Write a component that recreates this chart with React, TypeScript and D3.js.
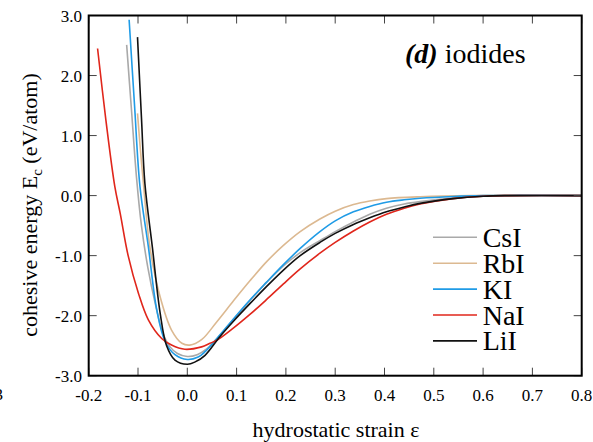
import React from "react";
import * as d3 from "d3";

const W = 593;
const H = 442;

const xTicks = [-0.2, -0.1, 0.0, 0.1, 0.2, 0.3, 0.4, 0.5, 0.6, 0.7, 0.8];
const yTicks = [3.0, 2.0, 1.0, 0.0, -1.0, -2.0, -3.0];

const csiEps = [-0.123, -0.113, -0.103, -0.093, -0.08, -0.065, -0.05, -0.035, -0.02, 0.0, 0.02, 0.04, 0.066, 0.095, 0.127, 0.16, 0.195, 0.229, 0.269, 0.3, 0.337, 0.37, 0.404, 0.44, 0.472, 0.539, 0.6, 0.65, 0.8];
const csiE = [2.51, 1.4, 0.3, -0.5, -1.2, -1.8, -2.28, -2.52, -2.63, -2.68, -2.65, -2.55, -2.33, -2.05, -1.75, -1.45, -1.17, -0.95, -0.75, -0.6, -0.44, -0.31, -0.21, -0.14, -0.1, -0.04, -0.01, 0, 0];

const rbiEps = [-0.101, -0.095, -0.089, -0.076, -0.055, -0.032, -0.011, 0.005, 0.029, 0.06, 0.093, 0.127, 0.161, 0.195, 0.229, 0.269, 0.3, 0.337, 0.37, 0.404, 0.472, 0.573, 0.8];
const rbiE = [1.37, 0.75, 0.2, -0.85, -1.69, -2.24, -2.46, -2.49, -2.4, -2.1, -1.76, -1.42, -1.1, -0.83, -0.6, -0.39, -0.26, -0.15, -0.09, -0.05, -0.02, 0, 0];

const kiEps = [-0.118, -0.107, -0.096, -0.079, -0.062, -0.045, -0.025, 0.0, 0.022, 0.036, 0.06, 0.093, 0.127, 0.16, 0.195, 0.229, 0.269, 0.3, 0.337, 0.37, 0.404, 0.44, 0.472, 0.54, 0.6, 0.8];
const kiE = [2.93, 1.5, 0.15, -0.85, -1.9, -2.43, -2.65, -2.73, -2.69, -2.6, -2.38, -2.06, -1.74, -1.45, -1.15, -0.88, -0.6, -0.42, -0.27, -0.18, -0.11, -0.07, -0.045, -0.015, 0, 0];

const naiEps = [-0.182, -0.165, -0.147, -0.136, -0.12, -0.099, -0.079, -0.052, -0.032, -0.005, 0.029, 0.046, 0.06, 0.09, 0.127, 0.161, 0.195, 0.229, 0.269, 0.3, 0.337, 0.37, 0.404, 0.44, 0.472, 0.539, 0.6, 0.65, 0.8];
const naiE = [2.45, 1.25, 0.15, -0.3, -1.0, -1.63, -2.07, -2.38, -2.49, -2.56, -2.52, -2.46, -2.41, -2.23, -1.98, -1.73, -1.47, -1.22, -0.96, -0.78, -0.59, -0.44, -0.31, -0.21, -0.14, -0.05, -0.01, 0, 0];

const liiEps = [-0.101, -0.093, -0.086, -0.071, -0.055, -0.042, -0.025, 0.0, 0.016, 0.036, 0.066, 0.095, 0.127, 0.16, 0.195, 0.229, 0.269, 0.3, 0.337, 0.37, 0.404, 0.44, 0.472, 0.539, 0.6, 0.65, 0.8];
const liiE = [2.64, 1.3, 0.2, -0.85, -1.96, -2.5, -2.74, -2.81, -2.77, -2.66, -2.35, -2.08, -1.8, -1.52, -1.24, -1.0, -0.78, -0.63, -0.48, -0.37, -0.27, -0.19, -0.13, -0.05, -0.01, 0, 0];

const seriesNames = ["CsI", "RbI", "KI", "NaI", "LiI"];
const seriesColors = ["#a9a9a9", "#dcb991", "#1f9be6", "#e0261b", "#111111"];
const seriesEps = [csiEps, rbiEps, kiEps, naiEps, liiEps];
const seriesE = [csiE, rbiE, kiE, naiE, liiE];

const FONT = "'Liberation Serif', 'DejaVu Serif', serif";

export default function App() {
  const left = 88.7;
  const right = 581.7;
  const top = 15.5;
  const bottom = 375.7;
  const x = d3.scaleLinear().domain([-0.2, 0.8]).range([left, right]);
  const y = d3.scaleLinear().domain([-3, 3]).range([bottom, top]);
  const line = d3
    .line<[number, number]>()
    .x((d) => x(d[0]))
    .y((d) => y(d[1]))
    .curve(d3.curveCatmullRom.alpha(0.5));

  const tickLen = 8;
  const ts = { fontFamily: FONT };

  return (
    <svg
      width={W}
      height={H}
      style={{ position: "absolute", left: 0, top: 0, background: "#fff", fontFamily: FONT }}
    >
      <rect x={0} y={0} width={W} height={H} fill="#fff" />
      <g fill="none" strokeWidth={1.6} strokeLinejoin="round">
        {seriesNames.map((n, i) => {
          const pts: [number, number][] = seriesEps[i].map((e, j) => [e, seriesE[i][j]]);
          return <path key={n} d={line(pts) || ""} stroke={seriesColors[i]} />;
        })}
      </g>
      <g stroke="#444" strokeWidth={1}>
        {xTicks.map((t) => (
          <g key={"xt" + t}>
            <line x1={x(t)} x2={x(t)} y1={bottom} y2={bottom - tickLen} />
            <line x1={x(t)} x2={x(t)} y1={top} y2={top + tickLen} />
          </g>
        ))}
        {yTicks.map((t) => (
          <g key={"yt" + t}>
            <line x1={left} x2={left + tickLen} y1={y(t)} y2={y(t)} />
            <line x1={right} x2={right - tickLen} y1={y(t)} y2={y(t)} />
          </g>
        ))}
      </g>
      <rect x={left} y={top} width={right - left} height={bottom - top} fill="none" stroke="#000" strokeWidth={2} />
      <g fontSize={17} fill="#000">
        {xTicks.map((t) => (
          <text key={"xl" + t} style={ts} x={x(t)} y={401} textAnchor="middle">
            {t.toFixed(1)}
          </text>
        ))}
        {yTicks.map((t) => (
          <text key={"yl" + t} style={ts} x={82} y={y(t) + 6} textAnchor="end">
            {t.toFixed(1)}
          </text>
        ))}
        <text style={ts} x={-5.5} y={400}>3</text>
      </g>
      <text style={ts} x={336} y={437} textAnchor="middle" fontSize={22}>
        hydrostatic strain ε
      </text>
      <text style={ts} transform={`translate(37,205) rotate(-90)`} textAnchor="middle" fontSize={22}>
        cohesive energy E<tspan fontSize={15} dy={5}>c</tspan>
        <tspan dy={-5}> (eV/atom)</tspan>
      </text>
      <text style={ts} x={405} y={63} fontSize={28}>
        <tspan fontWeight="bold" fontStyle="italic">(d)</tspan> iodides
      </text>
      <g>
        {seriesNames.map((n, i) => {
          const ry = 237.3 + i * 25.9;
          return (
            <g key={"lg" + n}>
              <line x1={433} x2={477} y1={ry} y2={ry} stroke={seriesColors[i]} strokeWidth={1.6} />
              <text style={ts} x={482.7} y={ry + 9.5} fontSize={28}>
                {n}
              </text>
            </g>
          );
        })}
      </g>
    </svg>
  );
}
